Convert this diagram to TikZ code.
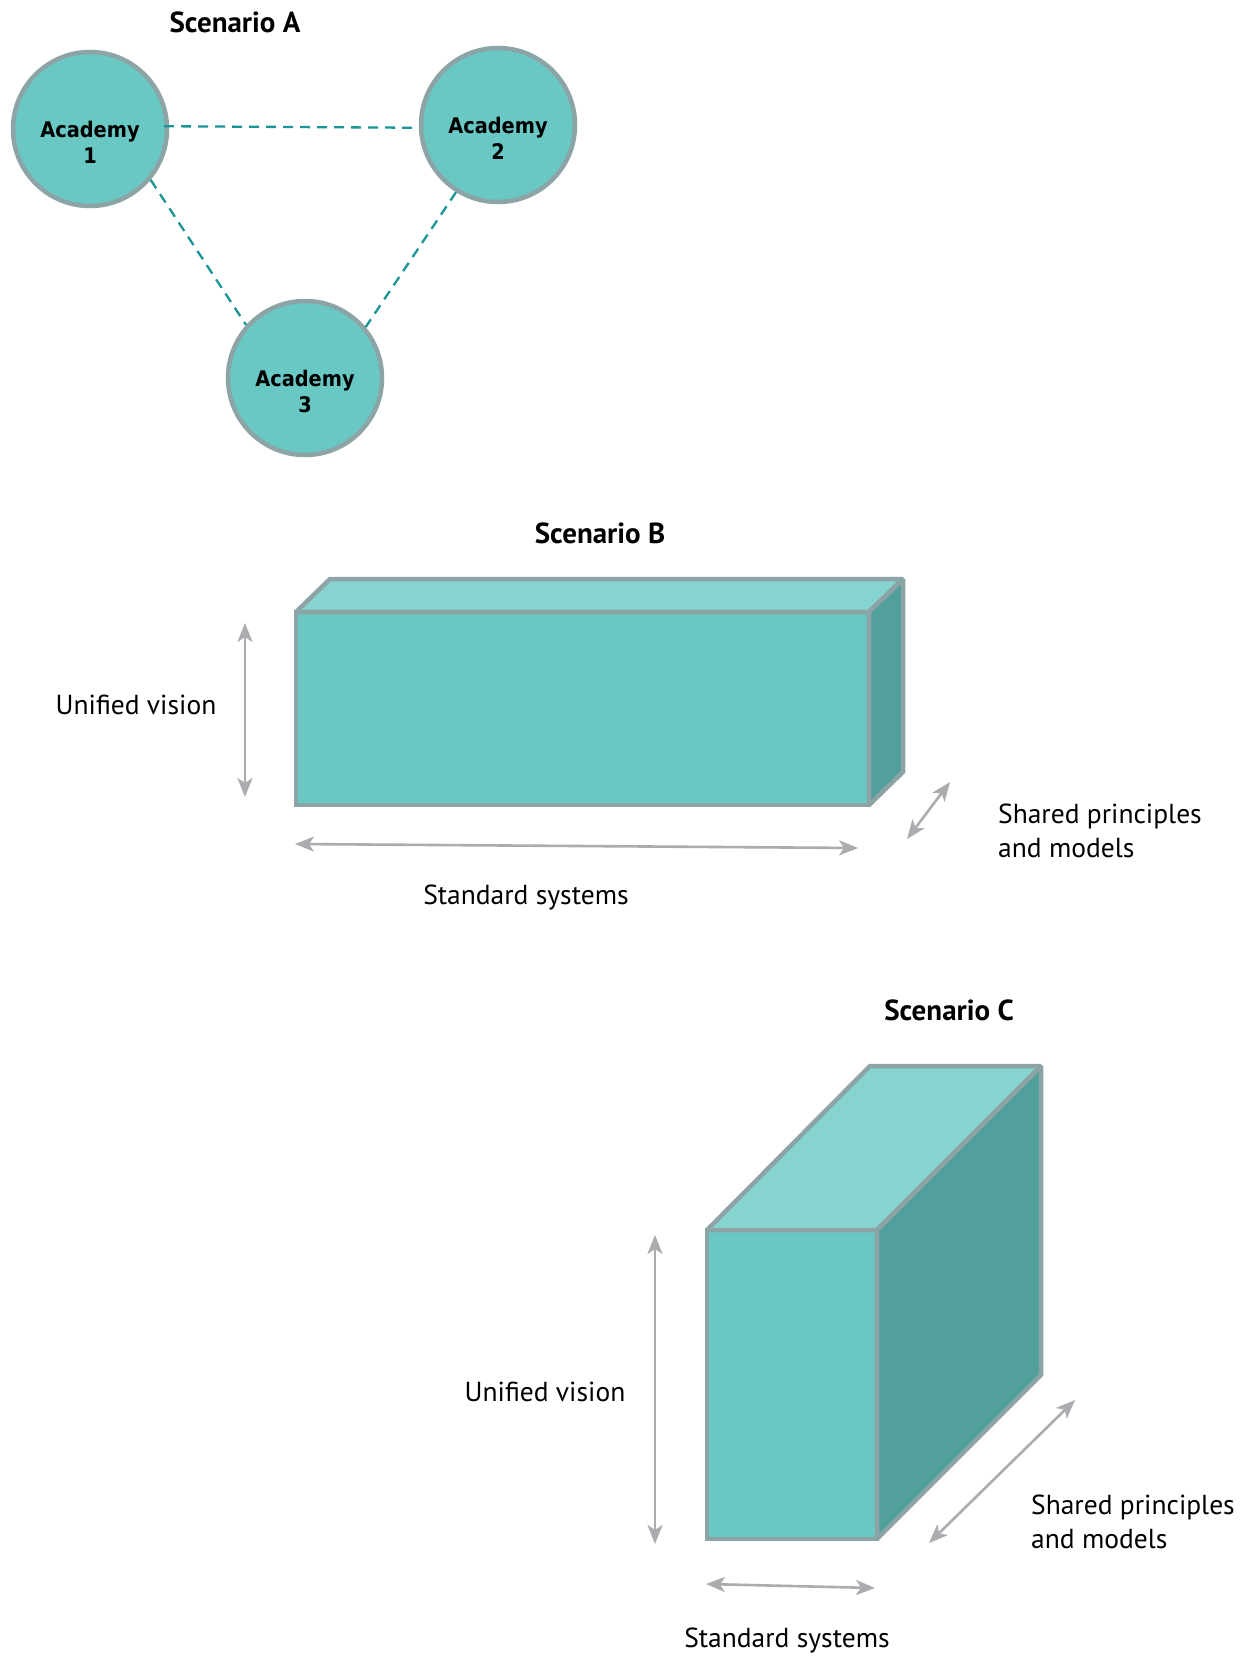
\documentclass[tikz,border=0pt]{standalone}
\usepackage{fontspec}
\setmainfont{PT Sans}
\newfontfamily\acadfont{DejaVu Sans}[FakeStretch=0.9]
\usetikzlibrary{arrows.meta}
\definecolor{tealfill}{HTML}{69C7C4}
\definecolor{tealtop}{HTML}{86D3CF}
\definecolor{tealside}{HTML}{52A09C}
\definecolor{strokegray}{HTML}{8CA4A5}
\definecolor{dashteal}{HTML}{1A9497}
\definecolor{arrowgray}{HTML}{AAACAF}
\begin{document}
\begin{tikzpicture}[x=1pt,y=-1pt,
  acad/.style={circle, draw=strokegray, line width=4.5pt, fill=tealfill, minimum size=154pt, inner sep=0pt},
  acadlbl/.style={font=\acadfont\bfseries\fontsize{21.5}{26}\selectfont, align=center, text=black, inner sep=0pt},
  link/.style={draw=dashteal, line width=2.3pt, dash pattern=on 10pt off 7pt},
  face/.style={draw=strokegray, line width=4.5pt, line join=miter, miter limit=1.5},
  dimarrow/.style={draw=arrowgray, line width=2.6pt, {Stealth[length=19pt,width=15pt,inset=5pt]}-{Stealth[length=19pt,width=15pt,inset=5pt]}},
  title/.style={font=\bfseries\fontsize{29}{34}\selectfont, inner sep=0pt},
  lbl/.style={font=\fontsize{27.5}{34}\selectfont, align=left, inner sep=0pt}
]
\useasboundingbox (0,0) rectangle (1242,1659);
\fill[white] (0,0) rectangle (1242,1659);

% ---------- Scenario A ----------
\node[title] (tA) at (235,22) {Scenario A};
\node[acad] (a1) at (90,129) {};
\node[acad] (a2) at (498,125) {};
\node[acad] (a3) at (305,378) {};
\node[acadlbl] (l1) at ([yshift=-13pt]a1.center) {Academy\\1};
\node[acadlbl] (l2) at ([yshift=-13pt]a2.center) {Academy\\2};
\node[acadlbl] (l3) at ([yshift=-13pt]a3.center) {Academy\\3};
\draw[link] ([xshift=-5pt]a1.2) -- (a2.182);
\draw[link] (a1.-40) -- (a3.138);
\draw[link] (a2.-122) -- (a3.40);

% ---------- Scenario B ----------
\node[title] (tB) at (600,533) {Scenario B};
\coordinate (bfl) at (296,612);
\coordinate (bfr) at (869,612);
\coordinate (bbr) at (869,805);
\coordinate (bbl) at (296,805);
\coordinate (btl) at (330,579);
\coordinate (btr) at (903,579);
\coordinate (bsr) at (903,772);
\filldraw[face, fill=tealfill] (bfl) -- (bfr) -- (bbr) -- (bbl) -- cycle;
\filldraw[face, fill=tealtop] (bfl) -- (btl) -- (btr) -- (bfr) -- cycle;
\filldraw[face, fill=tealside] (bfr) -- (btr) -- (bsr) -- (bbr) -- cycle;

\coordinate (bv1) at (245,623);
\coordinate (bv2) at (245,797);
\draw[dimarrow] (bv1) -- (bv2);
\node[lbl] (bUV) at (136,705) {Unified vision};

\coordinate (bh1) at (295,844);
\coordinate (bh2) at (858,848);
\draw[dimarrow] (bh1) -- (bh2);
\node[lbl] (bSS) at (526,898) {Standard systems};

\coordinate (bd1) at (907,839);
\coordinate (bd2) at (950,782);
\draw[dimarrow] (bd1) -- (bd2);
\node[lbl, anchor=west] (bSP) at (998,831) {Shared principles\\and models};

% ---------- Scenario C ----------
\node[title] (tC) at (949,1010) {Scenario C};
\coordinate (cfl) at (707,1230);
\coordinate (cfr) at (877,1230);
\coordinate (cbr) at (877,1539);
\coordinate (cbl) at (707,1539);
\coordinate (ctl) at (870,1066);
\coordinate (ctr) at (1041,1066);
\coordinate (csr) at (1041,1375);
\filldraw[face, fill=tealfill] (cfl) -- (cfr) -- (cbr) -- (cbl) -- cycle;
\filldraw[face, fill=tealtop] (cfl) -- (ctl) -- (ctr) -- (cfr) -- cycle;
\filldraw[face, fill=tealside] (cfr) -- (ctr) -- (csr) -- (cbr) -- cycle;

\coordinate (cv1) at (655,1235);
\coordinate (cv2) at (655,1544);
\draw[dimarrow] (cv1) -- (cv2);
\node[lbl] (cUV) at (545,1392) {Unified vision};

\coordinate (ch1) at (706,1584);
\coordinate (ch2) at (875,1588);
\draw[dimarrow] (ch1) -- (ch2);
\node[lbl] (cSS) at (787,1641) {Standard systems};

\coordinate (cd1) at (929,1543);
\coordinate (cd2) at (1075,1400);
\draw[dimarrow] (cd1) -- (cd2);
\node[lbl, anchor=west] (cSP) at (1031,1522) {Shared principles\\and models};
\end{tikzpicture}
\end{document}
